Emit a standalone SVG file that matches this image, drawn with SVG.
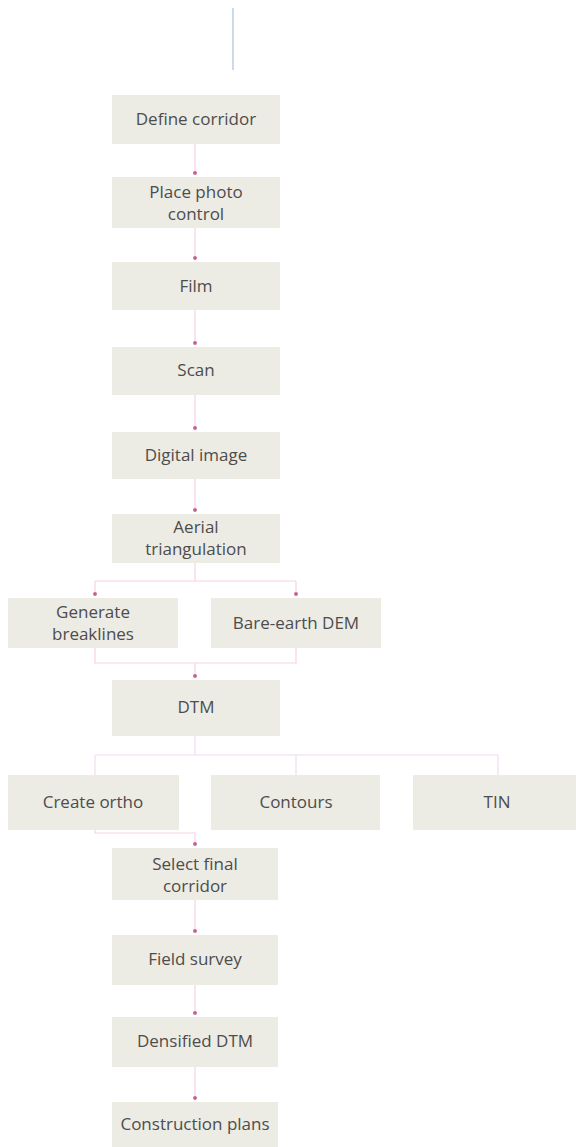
<svg xmlns="http://www.w3.org/2000/svg" width="576" height="1147" viewBox="0 0 576 1147">
<defs>
<style>
.box{fill:#ecebe4;}
.t{font-family:"Open Sans","DejaVu Sans",sans-serif;font-size:17px;fill:#4d4d4d;text-anchor:middle;}
.c{fill:none;stroke:#f6d3e5;stroke-width:1.2;}
.c2{fill:none;stroke:#eedcee;stroke-width:1.2;}
</style>
<marker id="ah" viewBox="0 0 4 4" refX="2" refY="2" markerWidth="4" markerHeight="4" markerUnits="userSpaceOnUse" orient="auto">
<rect x="0.3" y="0.3" width="3.4" height="3.4" rx="1" fill="#c45b90"/>
</marker>
</defs>
<rect width="576" height="1147" fill="#ffffff"/>
<line x1="233" y1="8" x2="233" y2="70" stroke="#a9c3dc" stroke-width="1.2"/>
<g id="connectors">
<path class="c" d="M195,144 V173" marker-end="url(#ah)"/>
<path class="c" d="M195,228 V258" marker-end="url(#ah)"/>
<path class="c" d="M195,310 V343" marker-end="url(#ah)"/>
<path class="c" d="M195,395 V428" marker-end="url(#ah)"/>
<path class="c" d="M195,479 V510" marker-end="url(#ah)"/>
<path class="c" d="M195,563 V581 M95,581 H296"/>
<path class="c" d="M95,581 V594" marker-end="url(#ah)"/>
<path class="c" d="M296,581 V594" marker-end="url(#ah)"/>
<path class="c" d="M95,648 V663 H296 V648"/>
<path class="c" d="M195,663 V676" marker-end="url(#ah)"/>
<path class="c2" d="M195,736 V755 M95,755 H498 M95,755 V775 M296,755 V775 M498,755 V775"/>
<path class="c" d="M95,830 V833 H195 V844" marker-end="url(#ah)"/>
<path class="c" d="M195,900 V931" marker-end="url(#ah)"/>
<path class="c" d="M195,985 V1013" marker-end="url(#ah)"/>
<path class="c" d="M195,1067 V1098" marker-end="url(#ah)"/>
</g>
<g id="n1"><rect class="box" x="112" y="95" width="168" height="49"/><text class="t" x="196" y="125">Define corridor</text></g>
<g id="n2"><rect class="box" x="112" y="177" width="168" height="51"/><text class="t" x="196" y="198">Place photo</text><text class="t" x="196" y="220">control</text></g>
<g id="n3"><rect class="box" x="112" y="262" width="168" height="48"/><text class="t" x="196" y="292">Film</text></g>
<g id="n4"><rect class="box" x="112" y="347" width="168" height="48"/><text class="t" x="196" y="376">Scan</text></g>
<g id="n5"><rect class="box" x="112" y="432" width="168" height="47"/><text class="t" x="196" y="461">Digital image</text></g>
<g id="n6"><rect class="box" x="112" y="514" width="168" height="49"/><text class="t" x="196" y="533">Aerial</text><text class="t" x="196" y="555">triangulation</text></g>
<g id="n7"><rect class="box" x="8" y="598" width="170" height="50"/><text class="t" x="93" y="618">Generate</text><text class="t" x="93" y="640">breaklines</text></g>
<g id="n8"><rect class="box" x="211" y="598" width="170" height="50"/><text class="t" x="296" y="629">Bare-earth DEM</text></g>
<g id="n9"><rect class="box" x="112" y="680" width="168" height="56"/><text class="t" x="196" y="713">DTM</text></g>
<g id="n10"><rect class="box" x="8" y="775" width="171" height="55"/><text class="t" x="93" y="808">Create ortho</text></g>
<g id="n11"><rect class="box" x="211" y="775" width="169" height="55"/><text class="t" x="296" y="808">Contours</text></g>
<g id="n12"><rect class="box" x="413" y="775" width="163" height="55"/><text class="t" x="497" y="808">TIN</text></g>
<g id="n13"><rect class="box" x="112" y="848" width="166" height="52"/><text class="t" x="195" y="870">Select final</text><text class="t" x="195" y="892">corridor</text></g>
<g id="n14"><rect class="box" x="112" y="935" width="166" height="50"/><text class="t" x="195" y="965">Field survey</text></g>
<g id="n15"><rect class="box" x="112" y="1017" width="166" height="50"/><text class="t" x="195" y="1047">Densified DTM</text></g>
<g id="n16"><rect class="box" x="112" y="1102" width="166" height="45"/><text class="t" x="195" y="1130">Construction plans</text></g>
</svg>
